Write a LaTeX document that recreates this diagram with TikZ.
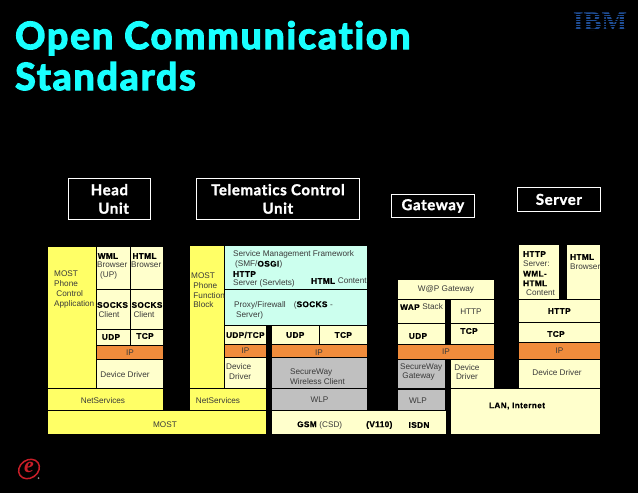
\documentclass[tikz,border=0pt]{standalone}
\usepackage{fontspec}
\setmainfont{Liberation Sans}[BoldFeatures={LetterSpace=5,FakeBold=1}]
\newfontfamily\headfont{Lato}[Ligatures=NoCommon,BoldFeatures={LetterSpace=4,FakeBold=1.5}]
\newfontfamily\titlefont{Lato}[Ligatures=NoCommon,BoldFeatures={LetterSpace=5,FakeBold=3.5}]
\newfontfamily\logofont{Liberation Serif}
\usetikzlibrary{positioning}
\definecolor{cellyellow}{HTML}{FFFF66}
\definecolor{cellcream}{HTML}{FFFFCC}
\definecolor{cellcyan}{HTML}{CCFFEE}
\definecolor{cellorange}{HTML}{F08C3C}
\definecolor{cellgrey}{HTML}{C0C0C0}
\definecolor{titlecyan}{HTML}{19FFFF}
\definecolor{inktext}{HTML}{3A3A3A}
\definecolor{ibmblue}{HTML}{1F4E96}
\definecolor{logored}{HTML}{C81E28}
\tikzset{
  cell/.style={inner sep=0pt,outer sep=0pt,align=center,text=inktext,font=\fontsize{8.2}{9.7}\selectfont},
  yellowcell/.style={cell,fill=cellyellow},
  creamcell/.style={cell,fill=cellcream},
  cyancell/.style={cell,fill=cellcyan},
  orangecell/.style={cell,fill=cellorange},
  greycell/.style={cell,fill=cellgrey},
  txt/.style={inner sep=0pt,align=left,anchor=west,text=inktext,font=\fontsize{8.2}{9.7}\selectfont},
  ctxt/.style={inner sep=0pt,align=center,text=inktext,font=\fontsize{8.2}{9.7}\selectfont},
  strong/.style={inner sep=0pt,align=center,text=black,font=\fontsize{8.2}{9.7}\selectfont\bfseries},
  headbox/.style={draw=white,line width=0.8pt,inner sep=0pt,align=center,text=white,font=\fontsize{15}{18.5}\selectfont\headfont\bfseries},
  titletxt/.style={inner sep=0pt,anchor=base west,text=titlecyan,font=\fontsize{37.5}{40}\selectfont\titlefont\bfseries},
}
% #1 style, #2 name, #3-#6 left top right bottom in pixels, #7 text
\newcommand{\cellbox}[7]{%
  \pgfmathsetmacro{\cellw}{#5-#3}\pgfmathsetmacro{\cellh}{#6-#4}%
  \node[#1,minimum width=\cellw pt,minimum height=\cellh pt,anchor=north west](#2) at (#3,#4){#7};}
\begin{document}
\begin{tikzpicture}[x=1pt,y=-1pt]
  \path[use as bounding box,fill=black] (0,0) rectangle (638,493);
  % title
  \node[titletxt](title1) at (15,49){Open Communication};
  \node[titletxt](title2) at (15,90){Standards};
  % logos
  \node[inner sep=0pt,text=ibmblue,font=\fontsize{27}{27}\selectfont\logofont\bfseries](ibm) at (600,22){IBM};
  \foreach \y in {13.5,16,...,31}{\fill[black] (570,\y) rectangle (632,\y+0.8);}
  \draw[logored,line width=1.5pt,rotate around={35:(29,469)}] (29,469) ellipse (11 and 9);
  \node[inner sep=0pt,text=logored,font=\fontsize{22}{22}\selectfont\logofont\itshape\bfseries](elogo) at (29,467){e};
  \fill[black!45] (38.5,478) circle (1);
  % column heads
  \cellbox{headbox}{headunit}{68}{178}{150}{219}{Head\\\ \ Unit}
  \cellbox{headbox}{tcuhead}{196}{178}{359}{219}{Telematics Control\\Unit}
  \cellbox{headbox}{gwhead}{391}{194}{474}{217}{Gateway}
  \cellbox{headbox}{srvhead}{517}{187}{600}{211}{Server}
  % head unit
  \cellbox{yellowcell}{huapp}{48}{247}{96}{388}{}
  \node[txt](huapptxt) at (54,289.5){MOST\\Phone\\\ Control\\Application};
  \cellbox{creamcell}{huwml}{97}{247}{130}{289}{}
  \node[strong](huwmltxt) at (108,256){WML};
  \node[txt](hubrowsa) at (97,265){Browser};
  \node[txt](huup) at (100,275){(UP)};
  \cellbox{creamcell}{huhtml}{131}{247}{163}{289}{}
  \node[strong](huhtmltxt) at (144.5,256){HTML};
  \node[txt](hubrowsb) at (131,265){Browser};
  \cellbox{creamcell}{husocksa}{97}{290}{130}{329}{}
  \node[strong](husocksatxt) at (112.5,305){SOCKS};
  \node[ctxt](huclienta) at (109,315){Client};
  \cellbox{creamcell}{husocksb}{131}{290}{163}{329}{}
  \node[strong](husocksbtxt) at (147,305){SOCKS};
  \node[ctxt](hucientb) at (144,315){Client};
  \cellbox{creamcell}{huudp}{97}{330}{130}{345}{}
  \node[strong](huudptxt) at (111,337){UDP};
  \cellbox{creamcell}{hutcp}{131}{330}{163}{345}{}
  \node[strong](hutcptxt) at (145,336){TCP};
  \cellbox{orangecell}{huip}{97}{346}{163}{359}{IP}
  \cellbox{creamcell}{hudrv}{97}{360}{163}{388}{}
  \node[ctxt](hudrvtxt) at (125,375){Device Driver};
  \cellbox{yellowcell}{hunet}{48}{389}{163}{410}{}
  \node[ctxt](hunettxt) at (103,401){NetServices};
  \cellbox{yellowcell}{most}{48}{411}{266}{434}{}
  \node[ctxt](mosttxt) at (165,425){MOST};
  % telematics control unit
  \cellbox{yellowcell}{tcufn}{190}{246}{224}{388}{}
  \node[txt](tcufntxt) at (191,290.5){MOST\\\ Phone\\\ Function\\\ Block};
  \cellbox{cyancell}{tcusmf}{225}{246}{367}{289}{}
  \node[txt](smftxt) at (233,254){Service Management Framework};
  \node[txt](osgitxt) at (235,264.5){(SMF/\textcolor{black}{\textbf{OSGI}})};
  \node[txt,text=black](tcuhttp) at (233,274){\textbf{HTTP}};
  \node[txt](tcuserv) at (233,283.5){Server  (Servlets)};
  \node[txt](tcucont) at (311,281){\textcolor{black}{\textbf{HTML}} Content};
  \cellbox{cyancell}{tcuproxy}{225}{290}{367}{325}{}
  \node[txt](proxytxt) at (234,305){Proxy/Firewall\quad (\textcolor{black}{\textbf{SOCKS}} -};
  \node[txt](proxysrv) at (236,315){Server)};
  \cellbox{creamcell}{tcuudptcp}{225}{326}{266}{344}{\textcolor{black}{\textbf{UDP/TCP}}}
  \cellbox{orangecell}{tcuipa}{225}{345}{266}{357}{IP}
  \cellbox{creamcell}{tcudrv}{225}{358}{266}{388}{}
  \node[txt](tcudrva) at (226,367){Device};
  \node[txt](tcudrvb) at (229,377){Driver};
  \cellbox{creamcell}{tcuudp}{272}{326}{319}{344}{\textcolor{black}{\textbf{UDP}}}
  \cellbox{creamcell}{tcutcp}{320}{326}{367}{344}{\textcolor{black}{\textbf{TCP}}}
  \cellbox{orangecell}{tcuipb}{272}{345}{367}{357}{}
  \node[ctxt](tcuipbtxt) at (319,353){IP};
  \cellbox{greycell}{tcusecure}{272}{358}{367}{388}{}
  \node[txt](tcusecuretxt) at (290,377){SecureWay\\Wireless Client};
  \cellbox{greycell}{tcuwlp}{272}{389}{367}{410}{WLP}
  \cellbox{yellowcell}{tcunet}{190}{389}{266}{410}{}
  \node[ctxt](tcunettxt) at (218,401){NetServices};
  \cellbox{creamcell}{gsm}{272}{411}{446}{434}{}
  \node[txt](gsmtxt) at (297,425){\textcolor{black}{\textbf{GSM}} (CSD)};
  \node[strong,anchor=west](vtxt) at (366,425){(V110)};
  \node[strong](isdntxt) at (419,425){ISDN};
  % gateway
  \cellbox{creamcell}{gwwap}{398}{280}{494}{299}{W@P Gateway}
  \cellbox{creamcell}{gwstack}{398}{300}{445}{323}{}
  \node[txt](gwstacktxt) at (400,307){\textcolor{black}{\textbf{WAP}} Stack};
  \cellbox{creamcell}{gwhttp}{451}{300}{494}{323}{}
  \node[ctxt](gwhttptxt) at (471,312){HTTP};
  \cellbox{creamcell}{gwudp}{398}{324}{445}{344}{}
  \node[strong](gwudptxt) at (418,336){UDP};
  \cellbox{creamcell}{gwtcp}{451}{324}{494}{344}{}
  \node[strong](gwtcptxt) at (469,331){TCP};
  \cellbox{orangecell}{gwip}{398}{345}{494}{359}{IP}
  \cellbox{greycell}{gwsecure}{398}{360}{445}{388}{}
  \node[txt](gwsecuretxt) at (400,372){SecureWay\\\ Gateway};
  \cellbox{creamcell}{gwdrv}{451}{360}{494}{388}{}
  \node[ctxt](gwdrvtxt) at (467,372){Device\\Driver};
  \cellbox{greycell}{gwwlp}{398}{390}{445}{410}{}
  \node[ctxt](gwwlptxt) at (418,401){WLP};
  \cellbox{creamcell}{lan}{451}{389}{600}{434}{}
  \node[strong](lantxt) at (517,406){LAN, Internet};
  % server
  \cellbox{creamcell}{srvhttp}{519}{245}{559}{299}{}
  \node[txt,text=black](srvhttptxt) at (523,254){\textbf{HTTP}};
  \node[txt](srvserv) at (523,264){Server:};
  \node[txt,text=black](srvwml) at (523,278.5){\textbf{WML-}\\\textbf{HTML}};
  \node[txt](srvcont) at (526,293){Content};
  \cellbox{creamcell}{srvhtml}{567}{245}{600}{299}{}
  \node[txt,text=black](srvhtmltxt) at (570,257){\textbf{HTML}};
  \node[txt](srvbrows) at (570,267){Browser};
  \cellbox{creamcell}{srvhttpb}{519}{300}{600}{322}{\textcolor{black}{\textbf{HTTP}}}
  \cellbox{creamcell}{srvtcp}{519}{323}{600}{342}{}
  \node[strong](srvtcptxt) at (556,334){TCP};
  \cellbox{orangecell}{srvip}{519}{343}{600}{359}{IP}
  \cellbox{creamcell}{srvdrv}{519}{360}{600}{388}{}
  \node[ctxt](srvdrvtxt) at (557,373){Device Driver};
\end{tikzpicture}
\end{document}
